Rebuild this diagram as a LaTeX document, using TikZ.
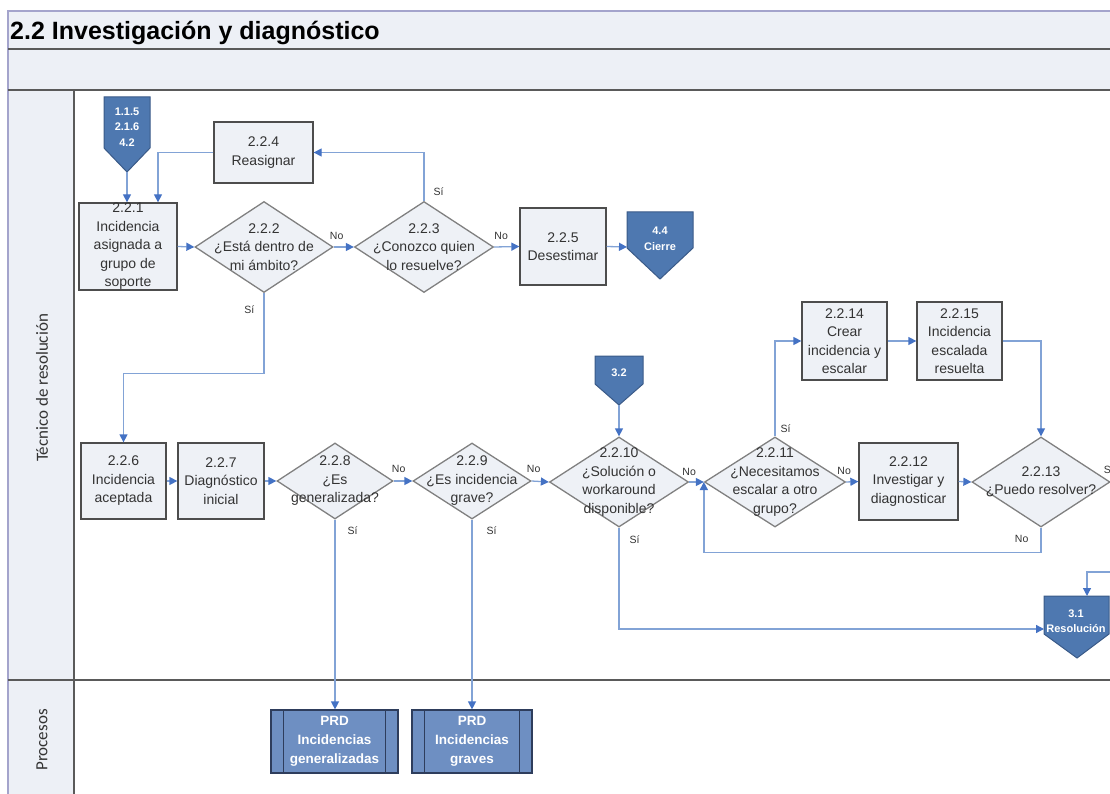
\documentclass[tikz,border=0pt]{standalone}
\usepackage{fontspec}
\setmainfont{Liberation Sans}
\newfontfamily\lanefont{Carlito}
\usetikzlibrary{shapes.geometric,arrows.meta}

\definecolor{lanefill}{HTML}{EDF0F6}
\definecolor{boxfill}{HTML}{EEF1F6}
\definecolor{boxline}{HTML}{4D4D4D}
\definecolor{diagline}{HTML}{808080}
\definecolor{flowline}{HTML}{82A3D6}
\definecolor{tipblue}{HTML}{4472C4}
\definecolor{offblue}{HTML}{4E78B0}
\definecolor{offedge}{HTML}{3A5A88}
\definecolor{prdblue}{HTML}{6E8FC2}
\definecolor{prdedge}{HTML}{2E3D5C}
\definecolor{frame}{HTML}{5A5A5A}
\definecolor{lavender}{HTML}{A4A4CC}
\definecolor{txt}{HTML}{333333}

\tikzset{
  box/.style={rectangle, draw=boxline, fill=boxfill, line width=1.3pt, align=center,
    text=txt, font=\fontsize{14}{18.5}\selectfont, inner sep=0pt},
  dec/.style={diamond, draw=diagline, fill=boxfill, line width=1.3pt, inner sep=0pt},
  dtext/.style={align=center, text=txt, font=\fontsize{14}{18.5}\selectfont, inner sep=0pt},
  offp/.style={fill=offblue, draw=offedge, line width=1pt},
  offtext/.style={align=center, text=white, font=\bfseries\fontsize{11}{15.5}\selectfont},
  prd/.style={rectangle, draw=prdedge, fill=prdblue, line width=1.2pt, align=center,
    text=white, font=\bfseries\fontsize{13.5}{19}\selectfont},
  flow/.style={draw=flowline, line width=1.3pt, -{Triangle[length=8pt,width=8pt,color=tipblue]}},
  lbl/.style={font=\fontsize{10.5}{12}\selectfont, text=txt, inner sep=1pt},
  lanelbl/.style={font=\lanefont\fontsize{17}{20}\selectfont, text=txt, rotate=90},
}

\begin{document}
\begin{tikzpicture}[x=1pt, y=-1pt]
\useasboundingbox (0,0) rectangle (1110,794);
\clip (0,0) rectangle (1110,794);

% marco y calles
\fill[lanefill] (8,11) rectangle (1115,90);
\fill[lanefill] (8,90) rectangle (74,800);
\draw[lavender, line width=1.2pt] (8,800) -- (8,11) -- (1115,11);
\draw[frame, line width=1.2pt] (8,49) -- (1115,49) (8,90) -- (1115,90)
  (74,90) -- (74,800) (8,680) -- (1115,680);
\node[anchor=west, font=\bfseries\fontsize{25}{30}\selectfont, inner sep=0pt] (title) at (10,33) {2.2 Investigación y diagnóstico};
\node[lanelbl] (lane1) at (42,388) {Técnico de resolución};
\node[lanelbl] (lane2) at (42,740) {Procesos};

% conectores de pagina
\draw[offp] (104,97) -- (150,97) -- (150,148) -- (127,172) -- (104,148) -- cycle;
\node[offtext] (op1) at (127,127) {1.1.5\\2.1.6\\4.2};
\coordinate (op1tip) at (127,172);
\draw[offp] (627,212) -- (693,212) -- (693,248) -- (660,279) -- (627,248) -- cycle;
\node[offtext] (op44) at (660,239) {4.4\\Cierre};
\coordinate (op44w) at (627,247);
\draw[offp] (595,356) -- (643,356) -- (643,384) -- (619,405) -- (595,384) -- cycle;
\node[offtext] (op32) at (619,373) {3.2};
\coordinate (op32tip) at (619,405);
\draw[offp] (1044,596) -- (1109,596) -- (1109,634) -- (1077,658) -- (1044,634) -- cycle;
\node[offtext] (op31) at (1076,621) {3.1\\Resolución};
\coordinate (op31w) at (1044,629);
\coordinate (op31n) at (1087,596);
\coordinate (e31) at (1115,572);

% actividades
\node[box, minimum width=98, minimum height=87] (b221) at (128,246.5) {2.2.1\\Incidencia\\asignada a\\grupo de\\soporte};
\node[dec, minimum width=138, minimum height=91, label={[dtext]center:{2.2.2\\¿Está dentro de\\mi ámbito?}}] (d222) at (264,247) {};
\node[dec, minimum width=139, minimum height=91, label={[dtext]center:{2.2.3\\¿Conozco quien\\lo resuelve?}}] (d223) at (424,247) {};
\node[box, minimum width=99, minimum height=61] (b224) at (263.5,152.5) {2.2.4\\Reasignar};
\node[box, minimum width=86, minimum height=77] (b225) at (563,246.5) {2.2.5\\Desestimar};
\node[box, minimum width=85, minimum height=76] (b226) at (123.5,481) {2.2.6\\Incidencia\\aceptada};
\node[box, minimum width=86, minimum height=76] (b227) at (221,481) {2.2.7\\Diagnóstico\\inicial};
\node[dec, minimum width=116, minimum height=76, label={[dtext]center:{2.2.8\\¿Es\\generalizada?}}] (d228) at (335,481) {};
\node[dec, minimum width=118, minimum height=76, label={[dtext]center:{2.2.9\\¿Es incidencia\\grave?}}] (d229) at (472,481) {};
\node[dec, minimum width=139, minimum height=90, label={[dtext]center:{2.2.10\\¿Solución o\\workaround\\disponible?}}] (d2210) at (619,482) {};
\node[dec, minimum width=141, minimum height=90, label={[dtext]center:{2.2.11\\¿Necesitamos\\escalar a otro\\grupo?}}] (d2211) at (775,482) {};
\node[box, minimum width=99, minimum height=77] (b2212) at (908.5,481.5) {2.2.12\\Investigar y\\diagnosticar};
\node[dec, minimum width=138, minimum height=90, label={[dtext]center:{2.2.13\\¿Puedo resolver?}}] (d2213) at (1041,482) {};
\node[box, minimum width=85, minimum height=78] (b2214) at (844.5,341) {2.2.14\\Crear\\incidencia y\\escalar};
\node[box, minimum width=85, minimum height=78] (b2215) at (959.5,341) {2.2.15\\Incidencia\\escalada\\resuelta};

% procesos
\node[prd, minimum width=127, minimum height=63] (p1) at (334.5,741.5) {PRD\\Incidencias\\generalizadas};
\node[prd, minimum width=120, minimum height=63] (p2) at (472,741.5) {PRD\\Incidencias\\graves};
\draw[prdedge, line width=1.2pt] ([xshift=13]p1.north west) -- ([xshift=13]p1.south west)
  ([xshift=-13]p1.north east) -- ([xshift=-13]p1.south east)
  ([xshift=13]p2.north west) -- ([xshift=13]p2.south west)
  ([xshift=-13]p2.north east) -- ([xshift=-13]p2.south east);

% flujo
\draw[flow] (op1tip) -- (op1tip |- b221.north);
\draw[flow] (b224.west) -| ([xshift=30]b221.north);
\draw[flow] (b221.east) -- (d222.west);
\draw[flow] (d222.east) -- node[lbl, pos=0, anchor=south, xshift=3, yshift=6] {No} (d223.west);
\draw[flow] (d223.north) |- node[lbl, pos=0, anchor=south west, xshift=8, yshift=4] {Sí} (b224.east);
\draw[flow] (d223.east) -- node[lbl, pos=0, anchor=south, xshift=7, yshift=6] {No} (b225.west);
\draw[flow] (b225.east) -- (op44w);
\draw[flow] (d222.south) -- node[lbl, pos=0, anchor=north east, xshift=-8, yshift=-11] {Sí} ++(0,80) -| (b226.north);
\draw[flow] (b226.east) -- (b227.west);
\draw[flow] (b227.east) -- (d228.west);
\draw[flow] (d228.east) -- node[lbl, pos=0, anchor=south, xshift=5, yshift=7] {No} (d229.west);
\draw[flow] (d229.east) -- node[lbl, pos=0, anchor=south, xshift=2, yshift=7] {No} (d2210.west);
\draw[flow] (d228.south) -- node[lbl, pos=0, anchor=north west, xshift=11, yshift=-5] {Sí} (d228.south |- p1.north);
\draw[flow] (d229.south) -- node[lbl, pos=0, anchor=north west, xshift=13, yshift=-5] {Sí} (d229.south |- p2.north);
\draw[flow] (op32tip) -- (d2210.north);
\draw[flow] (d2210.east) -- node[lbl, pos=0, anchor=south, yshift=5] {No} (d2211.west);
\draw[flow] (d2210.south) |- node[lbl, pos=0, anchor=north west, xshift=9, yshift=-6] {Sí} (op31w);
\draw[flow] (d2211.north) |- node[lbl, pos=0, anchor=south west, xshift=4, yshift=2] {Sí} (b2214.west);
\draw[flow] (b2214.east) -- (b2215.west);
\draw[flow] (b2215.east) -| (d2213.north);
\draw[flow] (d2211.east) -- node[lbl, pos=0, anchor=south, xshift=-2, yshift=6] {No} (b2212.west);
\draw[flow] (b2212.east) -- (d2213.west);
\draw[flow] (d2213.south) -- node[lbl, pos=0, anchor=north east, xshift=-11, yshift=-6] {No} ++(0,25) -| (d2211.west);
\path (d2213.east) node[lbl, anchor=south west, xshift=-8, yshift=7] {Sí};
\draw[flow] (e31) -| (op31n);
\end{tikzpicture}
\end{document}
